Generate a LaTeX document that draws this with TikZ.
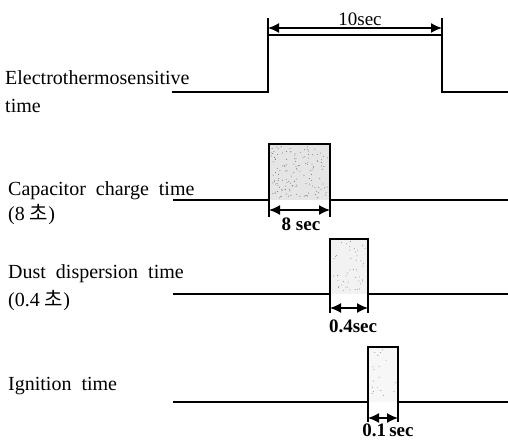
\documentclass[tikz,border=0pt]{standalone}
\usepackage{fontspec}
\setmainfont{Liberation Serif}
\newfontfamily\krfont{Noto Sans CJK KR}
\usetikzlibrary{arrows.meta}
\begin{document}
\begin{tikzpicture}[x=1pt,y=-1pt,
  sig/.style={line width=1.4pt, line join=miter},
  ext/.style={line width=1.2pt},
  dimarrow/.style={line width=1.4pt, {Latex[length=11pt,width=10pt]}-{Latex[length=11pt,width=10pt]}},
  lbl/.style={anchor=base west, inner sep=0pt, font=\fontsize{20}{22}\selectfont},
  dimlbl/.style={anchor=base, inner sep=0pt, font=\fontsize{19}{21}\selectfont\bfseries},
  speck/.style={fill=black!55}]
\useasboundingbox (0,0) rectangle (508,441);
\pgfmathsetseed{7}

% labels
\node[lbl] (l1) at (5,85) {Electrothermosensitive};
\node[lbl] (l1b) at (5,113) {time};
\node[lbl] (l2) at (8,195) {Capacitor\ \ charge\ \ time};
\node[lbl] (l2b) at (8,220) {(8 {\krfont 초})};
\node[lbl] (l3) at (8,278) {Dust\ \ dispersion\ \ time};
\node[lbl] (l3b) at (8,306) {(0.4 {\krfont 초})};
\node[lbl] (l4) at (8,390) {Ignition\ \ time};

% top signal
\draw[sig] (172,92) -- (268,92) -- (268,35) -- (442,35) -- (442,92) -- (508,92);
\draw[ext] (268,35) -- (268,18);
\draw[ext] (442,35) -- (442,18);
\coordinate (t1) at (268,28);
\coordinate (t2) at (442,28);
\draw[dimarrow] (t1) -- (t2);
\node[anchor=base, inner sep=0pt, font=\fontsize{19}{21}\selectfont] (tlab) at (360,26) {10sec};

% capacitor
\fill[black!10] (269,144) rectangle (330,200);
\foreach \k in {1,...,140}{
  \pgfmathsetmacro{\px}{271+57*rnd}\pgfmathsetmacro{\py}{146+52*rnd}
  \fill[speck] (\px,\py) circle (0.5pt);}
\draw[sig] (173,200) -- (269,200) -- (269,144) -- (330,144) -- (330,200) -- (508,200);
\draw[ext] (269,200) -- (269,217);
\draw[ext] (330,200) -- (330,217);
\coordinate (c1) at (269,210);
\coordinate (c2) at (330,210);
\draw[dimarrow] (c1) -- (c2);
\node[dimlbl] (clab) at (301,230) {8 sec};

% dust
\fill[black!5] (330,239) rectangle (368,294);
\foreach \k in {1,...,45}{
  \pgfmathsetmacro{\px}{332+34*rnd}\pgfmathsetmacro{\py}{241+51*rnd}
  \fill[speck] (\px,\py) circle (0.45pt);}
\draw[sig] (173,294) -- (330,294) -- (330,239) -- (368,239) -- (368,294) -- (508,294);
\draw[ext] (330,294) -- (330,313);
\draw[ext] (368,294) -- (368,313);
\coordinate (d1) at (330,308);
\coordinate (d2) at (368,308);
\draw[dimarrow] (d1) -- (d2);
\node[dimlbl] (dlab) at (353,332) {0.4sec};

% ignition
\fill[black!3] (368,347) rectangle (398,402);
\foreach \k in {1,...,18}{
  \pgfmathsetmacro{\px}{370+26*rnd}\pgfmathsetmacro{\py}{349+51*rnd}
  \fill[speck] (\px,\py) circle (0.45pt);}
\draw[sig] (173,402) -- (368,402) -- (368,347) -- (398,347) -- (398,402) -- (508,402);
\draw[ext] (368,402) -- (368,422);
\draw[ext] (398,402) -- (398,422);
\coordinate (i1) at (368,418);
\coordinate (i2) at (398,418);
\draw[dimarrow] (i1) -- (i2);
\node[dimlbl] (ilab) at (388,436) {0.1\,sec};
\end{tikzpicture}
\end{document}
